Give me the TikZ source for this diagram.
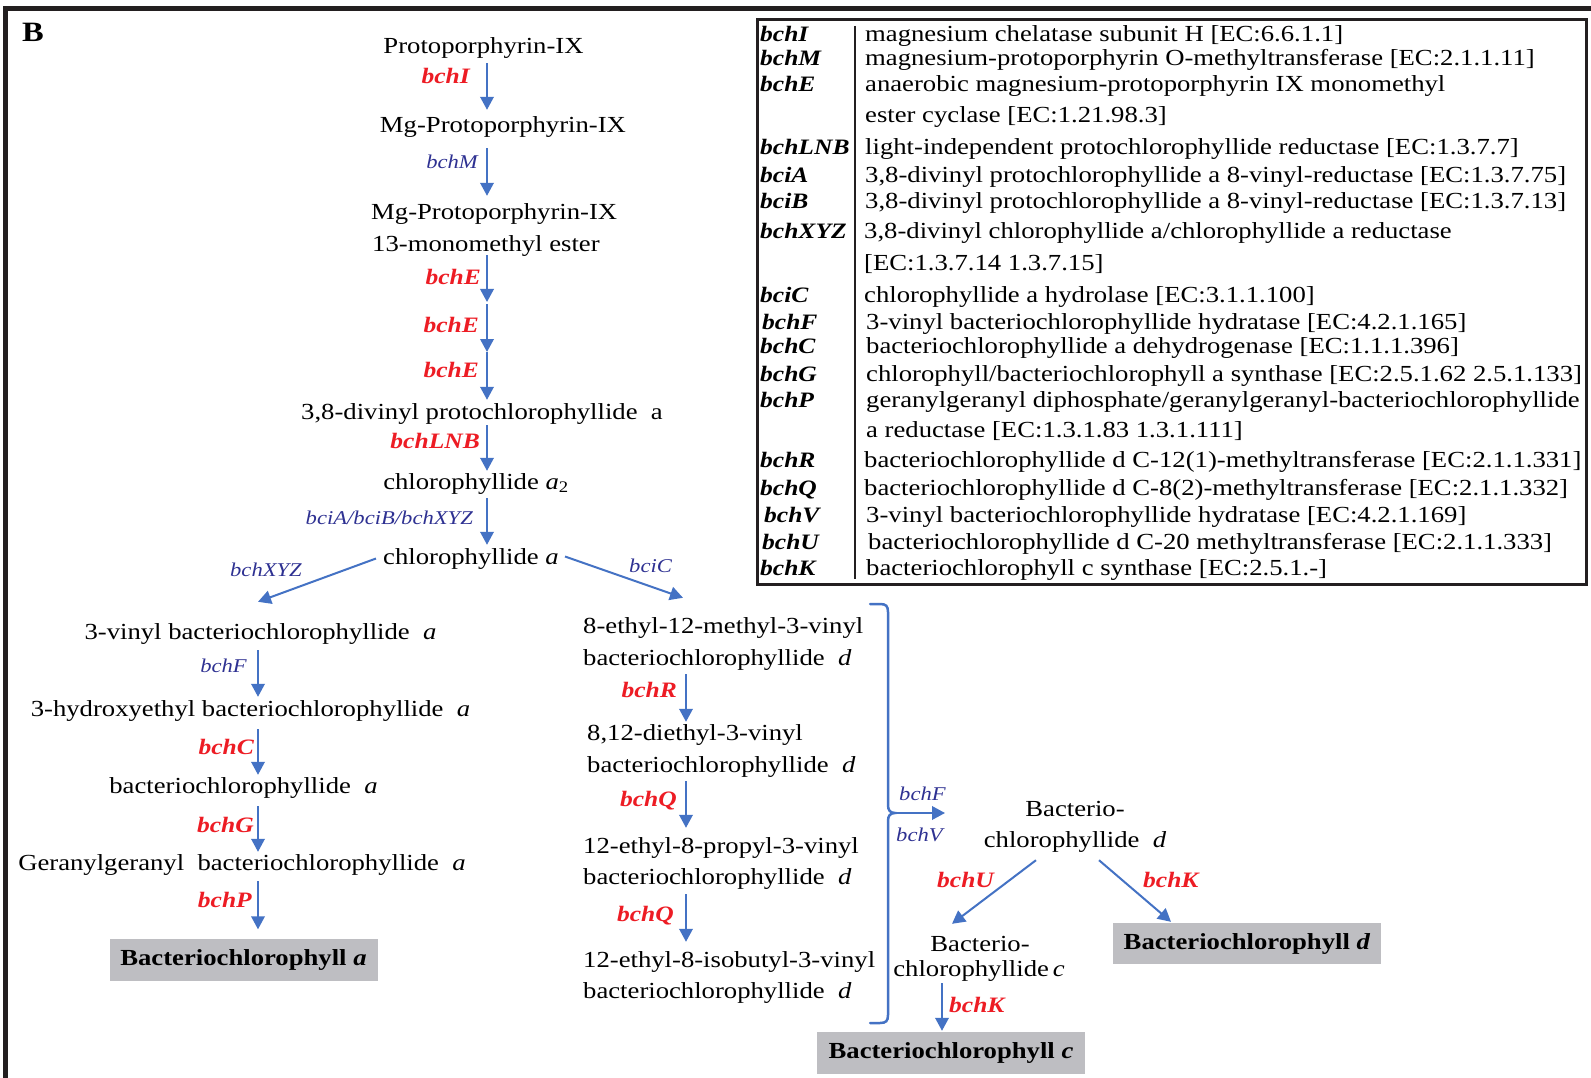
\documentclass[tikz,border=0pt]{standalone}
\usepackage{fontspec}
\setmainfont{Liberation Serif}[FakeStretch=1.16]
\usetikzlibrary{arrows.meta}
\definecolor{gred}{RGB}{237,28,36}
\definecolor{gblue}{RGB}{46,49,146}
\definecolor{ablue}{RGB}{68,114,196}
\definecolor{boxgray}{RGB}{190,190,194}
\definecolor{framec}{RGB}{35,31,32}
\newcommand\fsz[2]{\fontsize{#1}{#2}\selectfont}
\begin{document}
\begin{tikzpicture}[x=1pt,y=-1pt,
  txt/.style={inner sep=0pt, text height=16pt, text depth=5pt, font=\fsz{23}{28}},
  redlab/.style={inner sep=0pt, text=gred, font=\fsz{22}{26}\bfseries\itshape},
  bluelab/.style={inner sep=0pt, text=gblue, font=\fsz{19.5}{24}\itshape},
  arr/.style={draw=ablue, line width=2pt, -{Triangle[width=13.5pt,length=13pt]}},
  prod/.style={fill=boxgray, inner sep=0pt, minimum width=268pt, minimum height=42pt, font=\fsz{23}{28}\bfseries},
  gname/.style={inner sep=0pt, anchor=base west, font=\fsz{22}{26}\bfseries\itshape},
  gdesc/.style={inner sep=0pt, anchor=base west, font=\fsz{23}{28}},
]
\useasboundingbox (0,0) rectangle (1591,1078);
\fill[white] (0,0) rectangle (1591,1078);
% outer frame
\draw[framec, line width=5pt, line join=miter] (5.5,1078) -- (5.5,8.5) -- (1591,8.5);
\node[inner sep=0pt, anchor=base west, font=\fsz{28}{32}\bfseries] (lblB) at (22,42) {B};

% ---------- main column ----------
\coordinate (cxm) at (487,0);
\node[txt, anchor=base] (proto) at (483.5,54) {Protoporphyrin-IX};
\node[txt, anchor=base] (mgp) at (503,133) {Mg-Protoporphyrin-IX};
\node[txt, anchor=base west] (mgme1) at (371,220) {Mg-Protoporphyrin-IX};
\node[txt, anchor=base west] (mgme2) at (372,252) {13-monomethyl ester};
\node[txt, anchor=base] (dv) at (482,419) {3,8-divinyl protochlorophyllide\ \ a};
\node[txt, anchor=base] (chla2) at (476,489) {chlorophyllide \textit{a}\textsubscript{2}};
\node[txt, anchor=base] (chla) at (471,564) {chlorophyllide \textit{a}};
\coordinate (e1) at (487,303);
\coordinate (e2) at (487,352);

\node[redlab, anchor=base east] (lbI) at (470,84) {bchI};
\node[bluelab, anchor=base east] (lbM) at (478,169) {bchM};
\node[redlab, anchor=base east] (lbE1) at (481,284.5) {bchE};
\node[redlab, anchor=base east] (lbE2) at (479,332.5) {bchE};
\node[redlab, anchor=base east] (lbE3) at (479,377.5) {bchE};
\node[redlab, anchor=base east] (lbLNB) at (480,448.5) {bchLNB};
\node[bluelab, anchor=base east] (lbABX) at (473,524.5) {bciA/bciB/bchXYZ};

\draw[arr, shorten <=4pt, shorten >=7pt] (proto.south -| cxm) -- (mgp.north -| cxm);
\draw[arr, shorten <=10pt, shorten >=8pt] (mgp.south -| cxm) -- (mgme1.north -| cxm);
\draw[arr, shorten <=-2pt, shorten >=1pt] (mgme2.south -| cxm) -- (e1);
\draw[arr, shorten <=1pt] (e1) -- (e2);
\draw[arr, shorten >=3pt] (e2) -- (dv.north -| cxm);
\draw[arr, shorten <=1pt, shorten >=2pt] (dv.south -| cxm) -- (chla2.north -| cxm);
\draw[arr, shorten <=4pt, shorten >=3pt] (chla2.south -| cxm) -- (chla.north -| cxm);

% ---------- left column ----------
\coordinate (cxl) at (258,0);
\node[txt, anchor=base] (vinyl) at (260.5,639) {3-vinyl bacteriochlorophyllide\ \ \textit{a}};
\node[txt, anchor=base] (hydroxy) at (250.5,716) {3-hydroxyethyl bacteriochlorophyllide\ \ \textit{a}};
\node[txt, anchor=base] (bacta) at (243.5,793) {bacteriochlorophyllide\ \ \textit{a}};
\node[txt, anchor=base] (gg) at (242,870) {Geranylgeranyl\ \ bacteriochlorophyllide\ \ \textit{a}};
\node[prod] (boxa) at (243.5,959.5) {Bacteriochlorophyll \textit{a}};

\node[bluelab, anchor=base east] (lbXYZ) at (302,576) {bchXYZ};
\node[bluelab, anchor=base east] (lbF) at (247,672) {bchF};
\node[redlab, anchor=base east] (lbC) at (254,754) {bchC};
\node[redlab, anchor=base east] (lbG) at (254,832) {bchG};
\node[redlab, anchor=base east] (lbP) at (252,907) {bchP};

\draw[arr] ([xshift=-7pt]chla.west) -- ([xshift=-2.5pt,yshift=21pt]vinyl.north);
\draw[arr, shorten <=6pt, shorten >=3pt] (vinyl.south -| cxl) -- (hydroxy.north -| cxl);
\draw[arr, shorten <=8pt, shorten >=2pt] (hydroxy.south -| cxl) -- (bacta.north -| cxl);
\draw[arr, shorten <=8pt, shorten >=2pt] (bacta.south -| cxl) -- (gg.north -| cxl);
\draw[arr, shorten <=6pt, shorten >=9pt] (gg.south -| cxl) -- (boxa.north -| cxl);

% ---------- middle column ----------
\coordinate (cxr) at (686,0);
\node[txt, anchor=base west] (m1a) at (583,633) {8-ethyl-12-methyl-3-vinyl};
\node[txt, anchor=base west] (m1b) at (583,665) {bacteriochlorophyllide\ \ \textit{d}};
\node[txt, anchor=base west] (m2a) at (587,740) {8,12-diethyl-3-vinyl};
\node[txt, anchor=base west] (m2b) at (587,772) {bacteriochlorophyllide\ \ \textit{d}};
\node[txt, anchor=base west] (m3a) at (583,853) {12-ethyl-8-propyl-3-vinyl};
\node[txt, anchor=base west] (m3b) at (583,884) {bacteriochlorophyllide\ \ \textit{d}};
\node[txt, anchor=base west] (m4a) at (583,967) {12-ethyl-8-isobutyl-3-vinyl};
\node[txt, anchor=base west] (m4b) at (583,998) {bacteriochlorophyllide\ \ \textit{d}};

\node[bluelab, anchor=base west] (lbciC) at (629,572) {bciC};
\node[redlab, anchor=base east] (lbR) at (677,697) {bchR};
\node[redlab, anchor=base east] (lbQ1) at (677,806) {bchQ};
\node[redlab, anchor=base east] (lbQ2) at (674,921) {bchQ};

\draw[arr] ([xshift=6pt,yshift=2pt]chla.east) -- ([xshift=100pt,yshift=19pt]m1a.north west);
\draw[arr, shorten <=4pt, shorten >=2pt] (m1b.south -| cxr) -- (m2a.north -| cxr);
\draw[arr, shorten <=4pt, shorten >=9pt] (m2b.south -| cxr) -- (m3a.north -| cxr);
\draw[arr, shorten <=5pt, shorten >=9pt] (m3b.south -| cxr) -- (m4a.north -| cxr);

% brace
\draw[ablue, line width=2.5pt, line cap=round]
  (870,604) -- (880,604) .. controls (886,604) and (888,606) .. (888,612)
  -- (888,805) .. controls (888,810) and (890,813) .. (895,813)
  .. controls (890,813) and (888,816) .. (888,821)
  -- (888,1015) .. controls (888,1021) and (886,1023) .. (880,1023) -- (870,1023);
\coordinate (cusp) at (891,813);
\coordinate (fvend) at (945,813);
\draw[arr] (cusp) -- (fvend);
\node[bluelab, anchor=base west] (lbF2) at (899,800) {bchF};
\node[bluelab, anchor=base west] (lbV) at (896,841) {bchV};

% ---------- right part ----------
\node[txt, anchor=base] (bd1) at (1075,816) {Bacterio-};
\node[txt, anchor=base] (bd2) at (1075,847) {chlorophyllide\ \ \textit{d}};
\node[txt, anchor=base] (bc1) at (980,951) {Bacterio-};
\node[txt, anchor=base] (bc2) at (979,976) {chlorophyllide\,\textit{c}};
\node[prod, minimum height=41pt] (boxd) at (1247,943.5) {Bacteriochlorophyll \textit{d}};
\node[prod] (boxc) at (951,1053) {Bacteriochlorophyll \textit{c}};
\coordinate (cxk) at (942,0);

\node[redlab, anchor=base west] (lbU) at (937,887) {bchU};
\node[redlab, anchor=base west] (lbK1) at (1143,887) {bchK};
\node[redlab, anchor=base west] (lbK2) at (949,1012) {bchK};

\draw[arr] ([xshift=-39pt,yshift=-8pt]bd2.south) -- ([xshift=-28pt,yshift=11pt]bc1.north);
\draw[arr] ([xshift=24pt,yshift=-8pt]bd2.south) -- ([xshift=-76pt,yshift=1pt]boxd.north);
\draw[arr, shorten <=2pt, shorten >=1pt] (bc2.south -| cxk) -- (boxc.north -| cxk);

% ---------- table ----------
\draw[framec, line width=3pt] (757,20) rectangle (1586,584);
\draw[framec, line width=2pt] (855,26) -- (855,579);
\node[gname] (g1) at (760,41.5) {bchI};
\node[gdesc] (d1) at (865,41.5) {magnesium chelatase subunit H [EC:6.6.1.1]};
\node[gname] (g2) at (760,66) {bchM};
\node[gdesc] (d2) at (865,66) {magnesium-protoporphyrin O-methyltransferase [EC:2.1.1.11]};
\node[gname] (g3) at (760,92) {bchE};
\node[gdesc] (d3) at (865,92) {anaerobic magnesium-protoporphyrin IX monomethyl};
\node[gdesc] (d3b) at (865,123) {ester cyclase [EC:1.21.98.3]};
\node[gname] (g4) at (760,155) {bchLNB};
\node[gdesc] (d4) at (865,155) {light-independent protochlorophyllide reductase [EC:1.3.7.7]};
\node[gname] (g5) at (760,183) {bciA};
\node[gdesc] (d5) at (865,183) {3,8-divinyl protochlorophyllide a 8-vinyl-reductase [EC:1.3.7.75]};
\node[gname] (g6) at (760,209) {bciB};
\node[gdesc] (d6) at (865,209) {3,8-divinyl protochlorophyllide a 8-vinyl-reductase [EC:1.3.7.13]};
\node[gname] (g7) at (760,239) {bchXYZ};
\node[gdesc] (d7) at (864,239) {3,8-divinyl chlorophyllide a/chlorophyllide a reductase};
\node[gdesc] (d7b) at (864,270) {[EC:1.3.7.14 1.3.7.15]};
\node[gname] (g8) at (760,302) {bciC};
\node[gdesc] (d8) at (864,302) {chlorophyllide a hydrolase [EC:3.1.1.100]};
\node[gname] (g9) at (762,329) {bchF};
\node[gdesc] (d9) at (866,329) {3-vinyl bacteriochlorophyllide hydratase [EC:4.2.1.165]};
\node[gname] (g10) at (760,353) {bchC};
\node[gdesc] (d10) at (866,353) {bacteriochlorophyllide a dehydrogenase [EC:1.1.1.396]};
\node[gname] (g11) at (760,381) {bchG};
\node[gdesc] (d11) at (866,381) {chlorophyll/bacteriochlorophyll a synthase [EC:2.5.1.62 2.5.1.133]};
\node[gname] (g12) at (760,407) {bchP};
\node[gdesc] (d12) at (866,407) {geranylgeranyl diphosphate/geranylgeranyl-bacteriochlorophyllide};
\node[gdesc] (d12b) at (866,437) {a reductase [EC:1.3.1.83 1.3.1.111]};
\node[gname] (g13) at (760,467) {bchR};
\node[gdesc] (d13) at (864,467) {bacteriochlorophyllide d C-12(1)-methyltransferase [EC:2.1.1.331]};
\node[gname] (g14) at (760,495) {bchQ};
\node[gdesc] (d14) at (864,495) {bacteriochlorophyllide d C-8(2)-methyltransferase [EC:2.1.1.332]};
\node[gname] (g15) at (764,522) {bchV};
\node[gdesc] (d15) at (866,522) {3-vinyl bacteriochlorophyllide hydratase [EC:4.2.1.169]};
\node[gname] (g16) at (762,549) {bchU};
\node[gdesc] (d16) at (868,549) {bacteriochlorophyllide d C-20 methyltransferase [EC:2.1.1.333]};
\node[gname] (g17) at (760,575) {bchK};
\node[gdesc] (d17) at (866,575) {bacteriochlorophyll c synthase [EC:2.5.1.-]};
\end{tikzpicture}
\end{document}
